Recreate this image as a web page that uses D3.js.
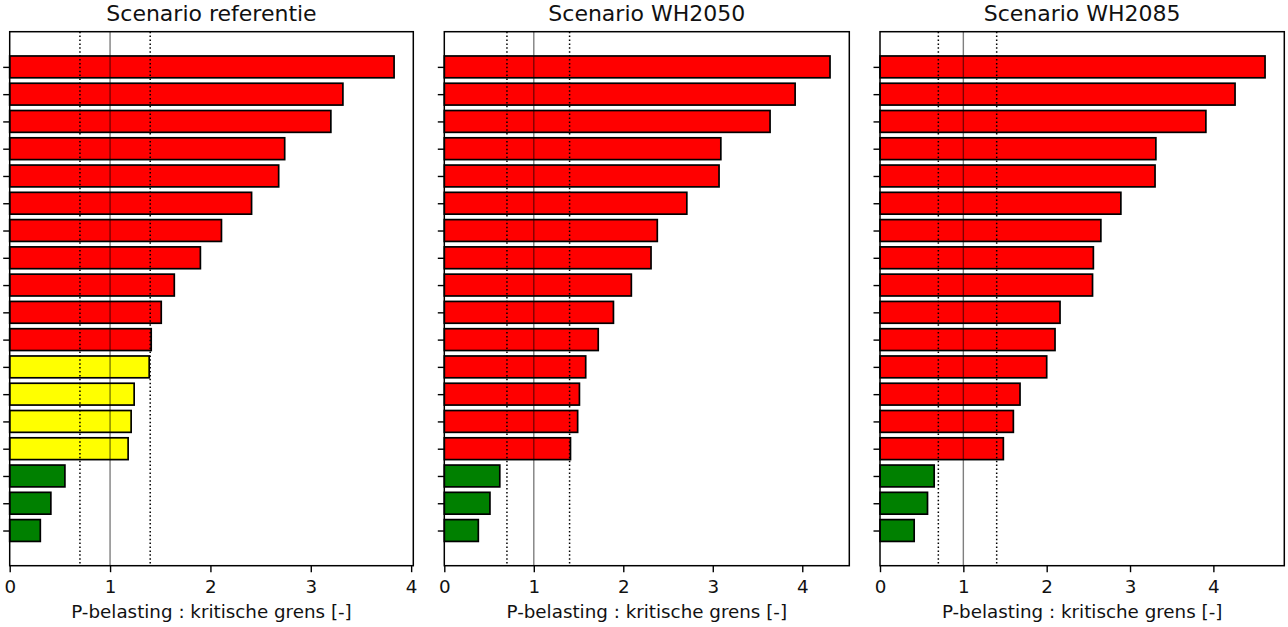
<!DOCTYPE html>
<html>
<head>
<meta charset="utf-8">
<script src="https://cdn.jsdelivr.net/npm/d3@7"></script>
<style>
  html, body { margin: 0; padding: 0; background: #fff; }
  svg { display: block; font-family: "DejaVu Sans", sans-serif; }
</style>
</head>
<body>
<svg id="chart" width="1288" height="627"></svg>
<script>
// P-load relative to the critical limit, per water body, sorted from high to low
const scenarios = ["Scenario referentie", "Scenario WH2050", "Scenario WH2085"];
const referentie = [3.83, 3.32, 3.20, 2.74, 2.68, 2.41, 2.11, 1.90, 1.64, 1.51, 1.41, 1.39, 1.24, 1.21, 1.18, 0.55, 0.41, 0.305];
const wh2050     = [4.31, 3.92, 3.64, 3.09, 3.07, 2.71, 2.38, 2.31, 2.09, 1.89, 1.72, 1.58, 1.51, 1.49, 1.41, 0.62, 0.51, 0.38];
const wh2085     = [4.62, 4.26, 3.91, 3.31, 3.30, 2.89, 2.65, 2.56, 2.55, 2.16, 2.10, 2.00, 1.68, 1.60, 1.48, 0.65, 0.57, 0.41];
const seriesValues = [referentie, wh2050, wh2085];
const xTicks = [0, 1, 2, 3, 4];
const thresholds = [0.7, 1.4];   // lower and upper class boundary (dotted)
const reference = 1.0;           // critical limit (solid)
const xLabel = "P-belasting : kritische grens [-]";

function barColor(v) {
  if (v > thresholds[1]) return "#ff0000";
  if (v > thresholds[0]) return "#ffff00";
  return "#008000";
}

const svg = d3.select("#chart");
const panels = [
  { left: 9.7,  right: 413.3 },
  { left: 444.3, right: 849.3 },
  { left: 880,  right: 1284.3 }
];
const plotTop = 31.7, plotBottom = 565.7;
const n = referentie.length;
const barH = 0.8;
const pad = (n - 1 + barH) * 0.05;

const y = d3.scaleLinear()
  .domain([-barH / 2 - pad, n - 1 + barH / 2 + pad])
  .range([plotTop, plotBottom]);

panels.forEach((p, k) => {
  const values = seriesValues[k];
  const x = d3.scaleLinear()
    .domain([0, d3.max(values) * 1.05])
    .range([p.left, p.right]);

  const g = svg.append("g");

  // bars
  g.selectAll("rect.bar")
    .data(values)
    .join("rect")
    .attr("class", "bar")
    .attr("x", x(0))
    .attr("y", (d, i) => y(i - barH / 2))
    .attr("width", d => x(d) - x(0))
    .attr("height", y(barH) - y(0))
    .attr("fill", d => barColor(d))
    .attr("stroke", "#000")
    .attr("stroke-width", 1.7);

  // critical limit
  g.append("line")
    .attr("x1", x(reference)).attr("x2", x(reference))
    .attr("y1", plotTop).attr("y2", plotBottom)
    .attr("stroke", "#000")
    .attr("stroke-opacity", 0.5)
    .attr("stroke-width", 1.4);

  // class boundaries
  g.selectAll("line.thr")
    .data(thresholds)
    .join("line")
    .attr("class", "thr")
    .attr("x1", d => x(d)).attr("x2", d => x(d))
    .attr("y1", plotTop).attr("y2", plotBottom)
    .attr("stroke", "#000")
    .attr("stroke-width", 1.5)
    .attr("stroke-dasharray", "1.5,2.4");

  // frame
  g.append("rect")
    .attr("x", p.left).attr("y", plotTop)
    .attr("width", p.right - p.left).attr("height", plotBottom - plotTop)
    .attr("fill", "none")
    .attr("stroke", "#000")
    .attr("stroke-width", 1.5);

  // x axis
  const xa = g.append("g")
    .attr("transform", `translate(0,${plotBottom})`)
    .call(d3.axisBottom(x).tickValues(xTicks).tickFormat(d3.format("d"))
      .tickSize(6.5).tickPadding(8).tickSizeOuter(0));
  xa.select(".domain").remove();
  xa.selectAll(".tick line").attr("stroke", "#000").attr("stroke-width", 1.4);
  xa.selectAll(".tick text").attr("fill", "#111").style("font-size", "18.3px")
    .style("font-family", "DejaVu Sans, sans-serif");

  // y axis: tick marks only
  const ya = g.append("g")
    .attr("transform", `translate(${p.left},0)`)
    .call(d3.axisLeft(y).tickValues(d3.range(n)).tickFormat("")
      .tickSize(6.5).tickSizeOuter(0));
  ya.select(".domain").remove();
  ya.selectAll(".tick line").attr("stroke", "#000").attr("stroke-width", 1.4);

  // title
  g.append("text")
    .attr("x", (p.left + p.right) / 2)
    .attr("y", 21)
    .attr("text-anchor", "middle")
    .attr("fill", "#111")
    .style("font-size", "22px")
    .text(scenarios[k]);

  // x label
  g.append("text")
    .attr("x", (p.left + p.right) / 2)
    .attr("y", 618)
    .attr("text-anchor", "middle")
    .attr("fill", "#111")
    .style("font-size", "18.3px")
    .text(xLabel);
});
</script>
</body>
</html>
